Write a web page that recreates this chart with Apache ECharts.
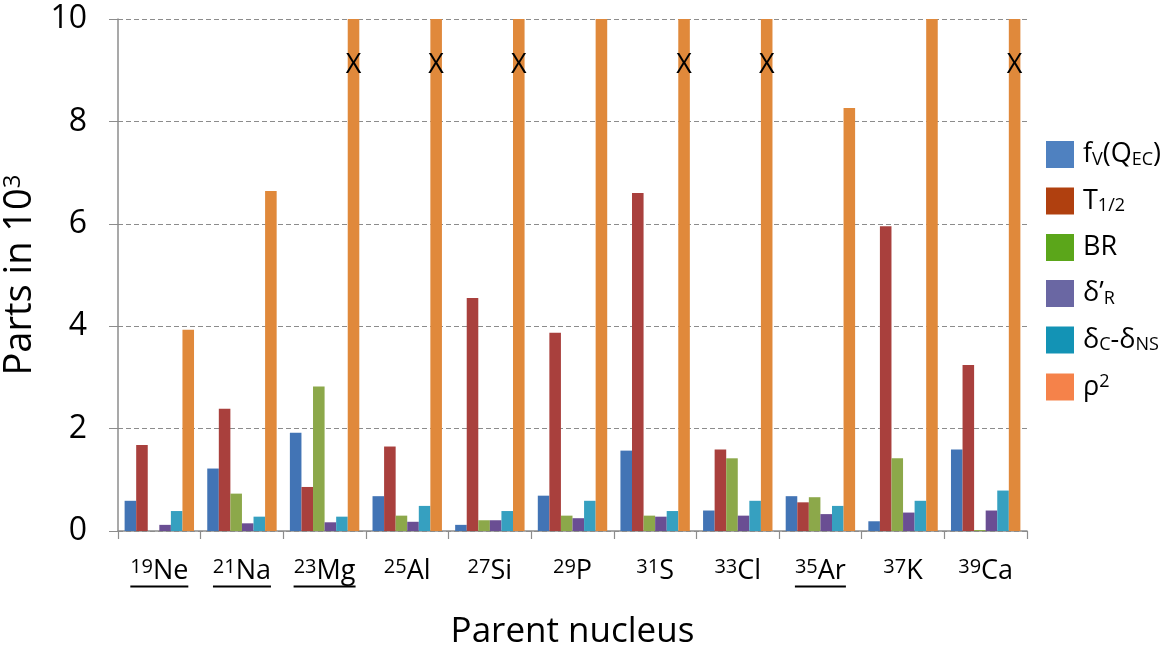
<!DOCTYPE html>
<html>
<head>
<meta charset="utf-8">
<script src="https://cdn.jsdelivr.net/npm/echarts@6/dist/echarts.min.js"></script>
<style>html,body{margin:0;padding:0;background:#fff;}#c{width:1174px;height:650px;}</style>
</head>
<body>
<div id="c"></div>
<script>
// ---- data ----
const elements = ['Ne','Na','Mg','Al','Si','P','S','Cl','Ar','K','Ca'];
const massNumbers = ['19','21','23','25','27','29','31','33','35','37','39'];
const underlined = [true,true,true,false,false,false,false,false,true,false,false];
const seriesNames = ['fV(QEC)','T1/2','BR',"δ'R",'δC-δNS','ρ2'];
const fV     = [0.59,1.22,1.92,0.68,0.12,0.69,1.57,0.40,0.68,0.19,1.59];
const T12    = [1.68,2.39,0.86,1.65,4.55,3.87,6.60,1.59,0.56,5.95,3.24];
const BR     = [0.00,0.73,2.82,0.30,0.21,0.30,0.30,1.42,0.66,1.42,0.02];
const deltaR = [0.12,0.15,0.17,0.18,0.21,0.25,0.28,0.30,0.33,0.36,0.40];
const deltaC = [0.39,0.28,0.28,0.49,0.39,0.59,0.39,0.59,0.49,0.59,0.79];
const rho2   = [3.93,6.64,10,10,10,10,10,10,8.26,10,10];
const offScale = [false,false,true,true,true,false,true,true,false,false,true];
const yTicks = [0,2,4,6,8,10];

// ---- styles ----
const FONT = 'Open Sans';
const barColors = ['#4274B5','#A9403D','#8CA84A','#6A4E93','#36A0C0','#E0893B'];
const legendColors = ['#4F81C0','#B0400F','#5BA61A','#6A67A3','#1393B5','#F5824A'];
const legendRich = [
  '{m|f}{s|V}{m|(Q}{s|EC}{m|)}',
  '{m|T}{s|1/2}',
  '{m|BR}',
  '{m|δ’}{s|R}',
  '{m|δ}{s|C}{m|-δ}{s|NS}',
  '{m|ρ}{p|2}'
];

const meas = document.createElement('canvas').getContext('2d');
function textW(str, size){ meas.font = size + 'px "' + FONT + '"'; return meas.measureText(str).width; }
const LBL = 27, SUP = 20;

const xRich = {
  sup:{fontFamily:FONT, fontSize:SUP, color:'#000', lineHeight:14, verticalAlign:'top'},
  el:{fontFamily:FONT, fontSize:LBL, color:'#000', lineHeight:28, verticalAlign:'bottom'},
  gap:{fontSize:1, lineHeight:3, height:2}
};
elements.forEach((e,i)=>{
  xRich['ul'+i] = {fontSize:1, lineHeight:3, height:2, backgroundColor:'#000',
    width: Math.round(textW(massNumbers[i], SUP) + textW(e, LBL))};
});

const allSeries = [fV,T12,BR,deltaR,deltaC,rho2];
const series = allSeries.map((arr,i)=>({
  name: seriesNames[i],
  type: 'bar',
  barGap: '0%',
  barCategoryGap: '16%',
  itemStyle: {color: barColors[i]},
  data: arr.map((v,j)=>{
    if(i===5 && offScale[j]){
      return {value:v, label:{show:true, position:'insideTop', distance:33, formatter:'X',
        color:'#000', fontSize:27, lineHeight:27, fontFamily:FONT}};
    }
    return v;
  })
}));

const chart = echarts.init(document.getElementById('c'));
chart.setOption({
  animation:false,
  backgroundColor:'#fff',
  grid:{left:118, right:147, top:19, bottom:119, outerBoundsMode:'none', containLabel:false},
  legend:{
    orient:'vertical', left:1041, top:136,
    itemWidth:28, itemHeight:27, itemGap:19,
    icon:'rect',
    data: seriesNames.map((n,i)=>({name:n, itemStyle:{color:legendColors[i]}})),
    formatter: function(name){ return legendRich[seriesNames.indexOf(name)]; },
    textStyle:{
      padding:[0,0,0,4],
      rich:{
        m:{fontFamily:FONT, fontSize:27, color:'#000', lineHeight:28, verticalAlign:'middle'},
        s:{fontFamily:FONT, fontSize:18, color:'#000', lineHeight:16, verticalAlign:'bottom'},
        p:{fontFamily:FONT, fontSize:18, color:'#000', lineHeight:16, verticalAlign:'top'}
      }
    }
  },
  xAxis:{
    type:'category',
    data: elements,
    name:'Parent nucleus',
    nameLocation:'middle',
    nameGap:84,
    nameTextStyle:{fontFamily:FONT, fontSize:35, color:'#000'},
    axisLine:{lineStyle:{color:'#8c8c8c', width:1.5}},
    axisTick:{show:true, length:8, lineStyle:{color:'#8c8c8c', width:1.2}},
    axisLabel:{
      interval:0, margin:26,
      formatter:function(v, idx){
        const top = '{sup|' + massNumbers[idx] + '}{el|' + v + '}';
        return top + (underlined[idx] ? '\n{ul' + idx + '| }' : '\n{gap| }');
      },
      rich: xRich
    }
  },
  yAxis:{
    type:'value', min:0, max:10, interval:2,
    name:'Parts in 10{p|3}',
    nameLocation:'middle', nameGap:68, nameRotate:90,
    nameTextStyle:{fontFamily:FONT, fontSize:38, color:'#000',
      rich:{p:{fontFamily:FONT, fontSize:24, color:'#000', verticalAlign:'top', lineHeight:25}}},
    axisLine:{show:true, lineStyle:{color:'#8c8c8c', width:1.5}},
    axisTick:{show:true, length:9, lineStyle:{color:'#8c8c8c', width:1}},
    axisLabel:{fontFamily:FONT, fontSize:32, color:'#000', margin:31,
      formatter:function(v){ return yTicks.indexOf(v)>=0 ? String(v) : ''; }},
    splitLine:{show:true, lineStyle:{color:'#8c8c8c', type:[5,3], width:1.2}}
  },
  series: series
});
</script>
</body>
</html>
